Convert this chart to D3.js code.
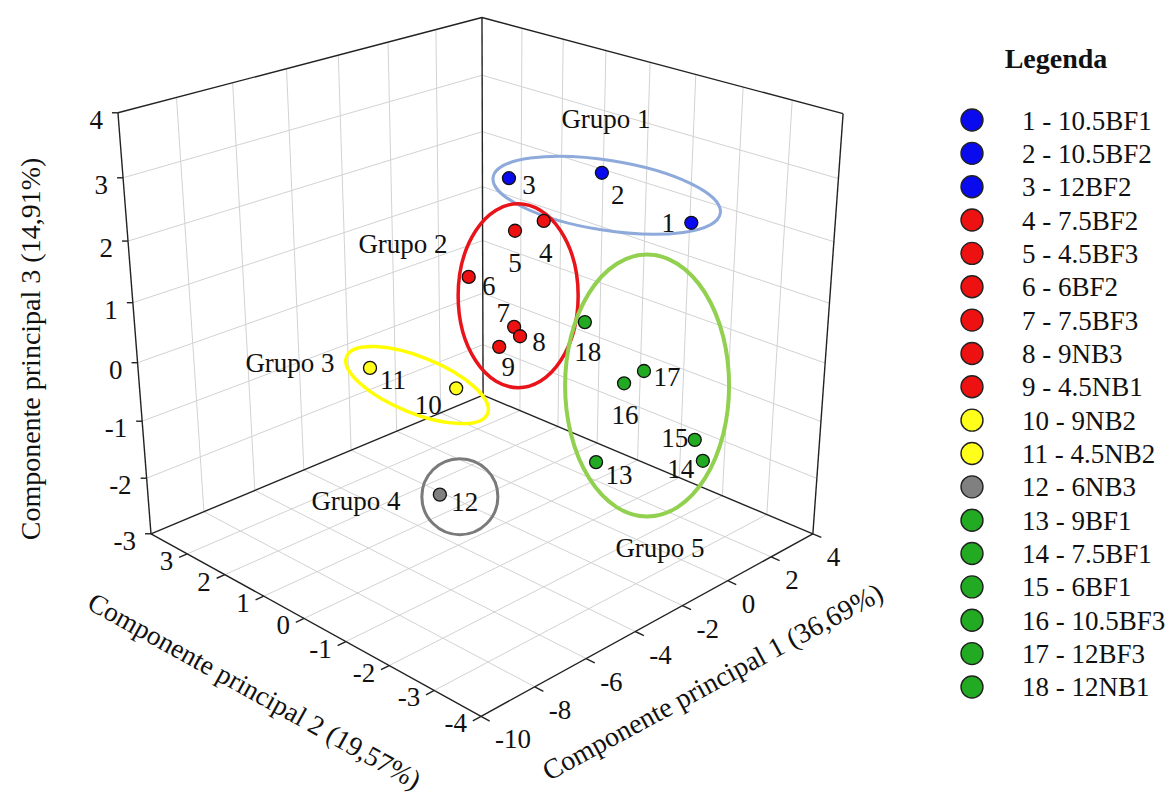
<!DOCTYPE html>
<html><head><meta charset="utf-8">
<script src="https://cdn.jsdelivr.net/npm/d3@7"></script>
<style>body{margin:0;background:#fff} text{font-family:"Liberation Serif","Times New Roman",serif;fill:#111}</style>
</head><body><svg id="c" width="1176" height="794"></svg>
<script>
const ids=[1,2,3,4,5,6,7,8,9,10,11,12,13,14,15,16,17,18];
const names=["10.5BF1","10.5BF2","12BF2","7.5BF2","4.5BF3","6BF2","7.5BF3","9NB3","4.5NB1","9NB2","4.5NB2","6NB3","9BF1","7.5BF1","6BF1","10.5BF3","12BF3","12NB1"];
const groups=[1,1,1,2,2,2,2,2,2,3,3,4,5,5,5,5,5,5];
const pc1=[0.84,-0.17,-1.15,-1.92,-2.4,-3.33,-2.42,-2.32,-2.67,-3.64,-5.54,-6.07,-1.41,1.31,1.11,-0.38,0.01,-1.16];
const pc2=[-2.52,-1.11,0.42,-0.79,-0.42,0.1,-0.42,-0.5,-0.22,0.23,1.13,-0.81,-1.76,-2.76,-2.66,-1.81,-2.04,-1.32];
const pc3=[2.38,2.97,2.66,2.37,2.19,1.45,0.63,0.48,0.28,-0.39,0.01,-1.41,-1.43,-1.59,-1.22,-0.25,-0.04,0.76];
const pc1Ticks=[-10,-8,-6,-4,-2,0,2,4];
const pc2Ticks=[3,2,1,0,-1,-2,-3,-4];
const pc3Ticks=[-3,-2,-1,0,1,2,3,4];

const svg=d3.select("#c");
const sx=d3.scaleLinear().domain([-10,4]).range([0,1]);
const sy=d3.scaleLinear().domain([-4,4]).range([0,1]);
const sz=d3.scaleLinear().domain([-3,4]).range([0,1]);
// camera calibrated from the box corners (layout)
const anchors=[[[-10,4,-3],[151,533]],[[-10,4,4],[118,113]],[[4,4,-3],[483,396]],[[4,4,4],[482,17]],[[4,-4,-3],[813,533]],[[4,-4,4],[843,114]],[[-10,-4,-3],[481,717]]];
function solveLS(A,b){const n=A[0].length;const M=[...Array(n)].map(()=>new Array(n+1).fill(0));
 for(let r=0;r<A.length;r++){for(let i=0;i<n;i++){for(let j=0;j<n;j++)M[i][j]+=A[r][i]*A[r][j];M[i][n]+=A[r][i]*b[r];}}
 for(let c=0;c<n;c++){let p=c;for(let r=c+1;r<n;r++)if(Math.abs(M[r][c])>Math.abs(M[p][c]))p=r;[M[c],M[p]]=[M[p],M[c]];
  for(let r=0;r<n;r++){if(r===c)continue;const f=M[r][c]/M[c][c];for(let k=c;k<=n;k++)M[r][k]-=f*M[c][k];}}
 return M.map((row,i)=>row[n]/row[i]);}
const nu=u=>(u-480)/400,nv=v=>(v-400)/400;
const A=[],b=[];
anchors.forEach(([[x,y,z],[u,v]])=>{const X=sx(x),Y=sy(y),Z=sz(z),U=nu(u),V=nv(v);
 A.push([X,Y,Z,1,0,0,0,0,-U*X,-U*Y,-U*Z]);b.push(U);
 A.push([0,0,0,0,X,Y,Z,1,-V*X,-V*Y,-V*Z]);b.push(V);});
const P=solveLS(A,b);
function proj(x,y,z){const X=sx(x),Y=sy(y),Z=sz(z);const w=P[8]*X+P[9]*Y+P[10]*Z+1;
 return [(P[0]*X+P[1]*Y+P[2]*Z+P[3])/w*400+480,(P[4]*X+P[5]*Y+P[6]*Z+P[7])/w*400+400];}

const line=d3.line();
const gGrid=svg.append("g").attr("stroke","#d2d2d2").attr("stroke-width",1).attr("fill","none");
const seg=(g,a,b2)=>g.append("path").attr("d",line([proj(...a),proj(...b2)]));
[-8,-6,-4,-2,0,2].forEach(x=>{seg(gGrid,[x,4,-3],[x,4,4]);seg(gGrid,[x,-4,-3],[x,4,-3]);});
[-2,-1,0,1,2,3].forEach(z=>{seg(gGrid,[-10,4,z],[4,4,z]);seg(gGrid,[4,4,z],[4,-4,z]);});
[-3,-2,-1,0,1,2,3].forEach(y=>{seg(gGrid,[4,y,-3],[4,y,4]);seg(gGrid,[-10,y,-3],[4,y,-3]);});
const gF=svg.append("g").attr("stroke","#222").attr("stroke-width",1.4).attr("fill","none");
[[[-10,4,-3],[-10,4,4]],[[-10,4,4],[4,4,4]],[[4,4,4],[4,4,-3]],[[-10,4,-3],[4,4,-3]],[[4,4,4],[4,-4,4]],[[4,-4,4],[4,-4,-3]],[[4,4,-3],[4,-4,-3]],[[-10,4,-3],[-10,-4,-3]],[[-10,-4,-3],[4,-4,-3]]].forEach(s=>seg(gF,s[0],s[1]));
// ticks and tick labels
pc1Ticks.forEach(t=>{seg(gF,[t,-4,-3],[t,-4.18,-3]);const p=proj(t,-4,-3);
 svg.append("text").attr("x",p[0]+14).attr("y",p[1]+32).attr("font-size",27).text(t);});
pc2Ticks.forEach(t=>{seg(gF,[-10,t,-3],[-10.3,t,-3]);const p=proj(-10,t,-3);
 svg.append("text").attr("x",p[0]-14).attr("y",p[1]+16).attr("text-anchor","end").attr("font-size",27).text(t);});
pc3Ticks.forEach(t=>{const p=proj(-10,4,t);gF.append("path").attr("d",line([p,[p[0]-6,p[1]]]));
 svg.append("text").attr("x",p[0]-15).attr("y",p[1]+16).attr("text-anchor","end").attr("font-size",27).text(t);});
// axis titles
svg.append("text").attr("transform","translate(40,349) rotate(-90)").attr("text-anchor","middle").attr("font-size",28).text("Componente principal 3 (14,91%)");
svg.append("text").attr("transform","translate(250,699) rotate(29)").attr("text-anchor","middle").attr("font-size",27.5).text("Componente principal 2 (19,57%)");
svg.append("text").attr("transform","translate(717,690) rotate(-28.5)").attr("text-anchor","middle").attr("font-size",28).text("Componente principal 1 (36,69%)");

const fillC={1:"#0a0aee",2:"#ee1111",3:"#ffff1a",4:"#808080",5:"#22aa22"};
const ringC={1:"#8eaadb",2:"#e8141a",3:"#ffff00",4:"#7a7a7a",5:"#92d050"};
const groupNames=["Grupo 1","Grupo 2","Grupo 3","Grupo 4","Grupo 5"];
// group ellipses: offset from projected group centroid, radii, rotation
const ell=[{g:1,dx:6,dy:4,rx:115,ry:35,a:9,w:3},{g:2,dx:8,dy:6,rx:60,ry:92,a:0,w:3.5},{g:3,dx:4,dy:7,rx:76,ry:28,a:22,w:3.5},{g:4,dx:20,dy:2,rx:38,ry:38,a:0,w:3},{g:5,dx:6,dy:-21,rx:82,ry:131,a:0,w:4}];
const glab=[[606,128],[403,253],[290,372],[356,510],[660,557]];
const pts=ids.map((id,i)=>({id,g:groups[i],p:proj(pc1[i],pc2[i],pc3[i])}));
ell.forEach(e=>{const m=pts.filter(d=>d.g===e.g);const cx=d3.mean(m,d=>d.p[0])+e.dx,cy=d3.mean(m,d=>d.p[1])+e.dy;
 svg.append("ellipse").attr("cx",0).attr("cy",0).attr("rx",e.rx).attr("ry",e.ry).attr("transform",`translate(${cx},${cy}) rotate(${e.a})`)
 .attr("fill","none").attr("stroke",ringC[e.g]).attr("stroke-width",e.w);});
glab.forEach((l,i)=>svg.append("text").attr("x",l[0]).attr("y",l[1]).attr("text-anchor","middle").attr("font-size",27).text(groupNames[i]));
const lblOff=[[-23,0],[16,22],[20,7],[2,32],[0,32],[20,9],[-11,-14],[19,6],[9,20],[-28,17],[23,12],[25,7],[23,13],[-22,8],[-20,-2],[1,32],[23,6],[3,30]];
pts.forEach((d,i)=>{svg.append("circle").attr("cx",d.p[0]).attr("cy",d.p[1]).attr("r",6.5).attr("fill",fillC[d.g]).attr("stroke","#111").attr("stroke-width",1.3);
 svg.append("text").attr("x",d.p[0]+lblOff[i][0]).attr("y",d.p[1]+lblOff[i][1]+9).attr("text-anchor","middle").attr("font-size",27).text(d.id);});
// legend
svg.append("text").attr("x",1056).attr("y",68).attr("text-anchor","middle").attr("font-size",28).attr("font-weight","bold").text("Legenda");
ids.forEach((id,i)=>{const y=120+33.35*i;
 svg.append("circle").attr("cx",972).attr("cy",y).attr("r",11).attr("fill",fillC[groups[i]]).attr("stroke","#222").attr("stroke-width",1.4);
 svg.append("text").attr("x",1022).attr("y",y+9.5).attr("font-size",27).text(`${id} - ${names[i]}`);});
</script></body></html>
